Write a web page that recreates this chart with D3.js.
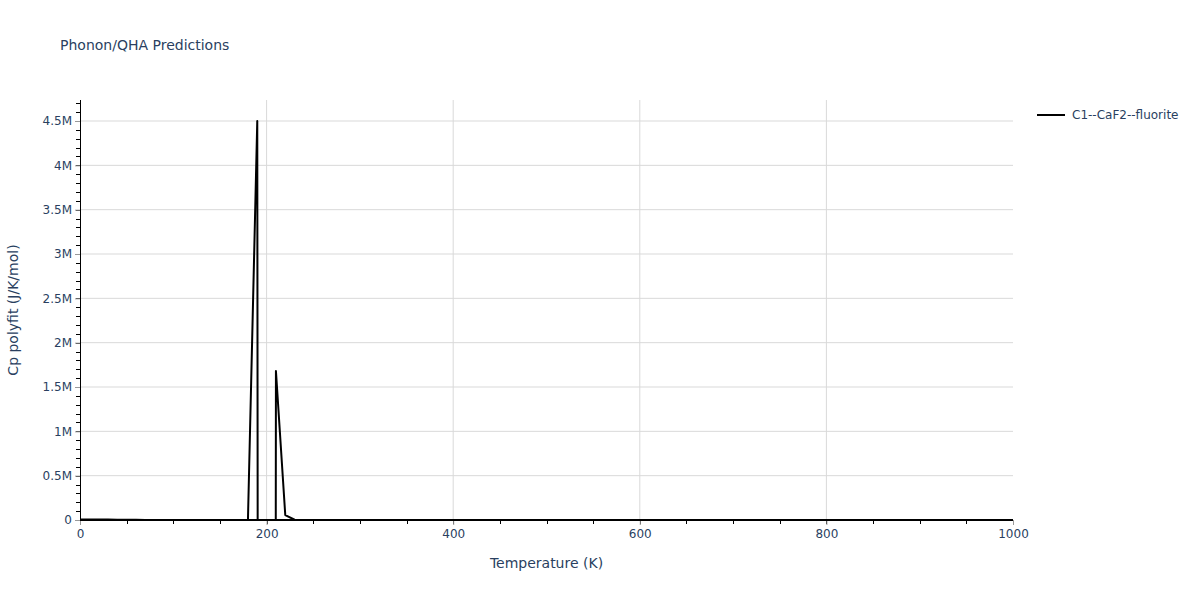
<!DOCTYPE html>
<html>
<head>
<meta charset="utf-8">
<script src="https://cdn.jsdelivr.net/npm/d3@7"></script>
<style>
  body { margin: 0; background: #fff; }
  text { font-family: Verdana, "DejaVu Sans", sans-serif; fill: #2a3f5f; }
</style>
</head>
<body>
<svg id="chart" width="1200" height="600"></svg>
<script>
// temperature grid (K) and Cp polyfit values (J/K/mol)
var temps = d3.range(0, 1000, 10)
var cpSpike = [[180, 0], [190, 4500000], [200, -100000000], [210, 1680000], [220, 56000], [230, 3000]]
var cpLow = [5000, 5000, 5000, 4500, 4000, 3000, 1500, 0]
var seriesName = "C1--CaF2--fluorite"
var yTickVals = [0, 500000, 1000000, 1500000, 2000000, 2500000, 3000000, 3500000, 4000000, 4500000]
var yTickText = ["0", "0.5M", "1M", "1.5M", "2M", "2.5M", "3M", "3.5M", "4M", "4.5M"]
var xTickVals = [0, 200, 400, 600, 800, 1000]

var cpValues = temps.map(function(t, i) {
   if (i < cpLow.length) return cpLow[i]
   var s = cpSpike.find(d => d[0] == t)
   if (s) return s[1]
   return 0
})
var dataset = temps.map((t, i) => ({ T: t, cp: cpValues[i] }))

var fontFamily = 'Verdana, "DejaVu Sans", sans-serif'
var margin = { top: 100, right: 187, bottom: 80, left: 80 }
var width = 1200 - margin.left - margin.right
var height = 600 - margin.top - margin.bottom

var svg = d3.select("#chart")

var xScale = d3.scaleLinear().domain([0, 1000]).range([0, width])
var yScale = d3.scaleLinear().domain([0, 4737000]).range([height, 0])

svg.append("defs").append("clipPath")
   .attr("id", "plot-clip")
   .append("rect")
   .attr("width", width)
   .attr("height", height)

var chart = svg.append("g")
   .attr("transform", "translate(" + margin.left + "," + margin.top + ")")

// grid
chart.append("g")
   .selectAll("line")
   .data(xTickVals.slice(1, -1))
   .join("line")
   .attr("x1", d => xScale(d))
   .attr("x2", d => xScale(d))
   .attr("y1", 0)
   .attr("y2", height)
   .attr("stroke", "#d9d9d9")
   .attr("stroke-width", 1)

chart.append("g")
   .selectAll("line")
   .data(yTickVals.slice(1))
   .join("line")
   .attr("x1", 0)
   .attr("x2", width)
   .attr("y1", d => yScale(d))
   .attr("y2", d => yScale(d))
   .attr("stroke", "#d9d9d9")
   .attr("stroke-width", 1)

// minor ticks
var yMinor = d3.range(0, 4737000, 100000)
chart.append("g")
   .selectAll("line")
   .data(yMinor)
   .join("line")
   .attr("x1", -4)
   .attr("x2", 0)
   .attr("y1", d => Math.round(yScale(d)) + 0.5)
   .attr("y2", d => Math.round(yScale(d)) + 0.5)
   .attr("stroke", "#000")

var xMinor = d3.range(50, 1000, 50)
chart.append("g")
   .selectAll("line")
   .data(xMinor)
   .join("line")
   .attr("x1", d => Math.round(xScale(d)) + 0.5)
   .attr("x2", d => Math.round(xScale(d)) + 0.5)
   .attr("y1", height)
   .attr("y2", height + 4)
   .attr("stroke", "#000")

// axes
var xAxis = d3.axisBottom(xScale).tickValues(xTickVals).tickFormat(d3.format("d"))
   .tickSize(5).tickPadding(4)
var yAxis = d3.axisLeft(yScale).tickValues(yTickVals)
   .tickFormat((d, i) => yTickText[i]).tickSize(5).tickPadding(3)

var gx = chart.append("g")
   .attr("transform", "translate(0," + height + ")")
   .call(xAxis)
gx.select(".domain").remove()
gx.selectAll(".tick line").attr("stroke", "#999")
gx.selectAll(".tick text").attr("font-size", 12).attr("fill", "#2a3f5f")
   .style("font-family", fontFamily)

var gy = chart.append("g").call(yAxis)
gy.select(".domain").remove()
gy.selectAll(".tick line").attr("stroke", "#999")
gy.selectAll(".tick text").attr("font-size", 12).attr("fill", "#2a3f5f")
   .style("font-family", fontFamily)

chart.append("line")
   .attr("x1", 0.5).attr("x2", 0.5)
   .attr("y1", 0).attr("y2", height)
   .attr("stroke", "#000")
chart.append("line")
   .attr("x1", 0).attr("x2", width)
   .attr("y1", height).attr("y2", height)
   .attr("stroke", "#000")
   .attr("stroke-width", 2)

// line
var line = d3.line()
   .x(d => xScale(d.T))
   .y(d => yScale(d.cp))

chart.append("path")
   .datum(dataset)
   .attr("clip-path", "url(#plot-clip)")
   .attr("d", line)
   .attr("fill", "none")
   .attr("stroke", "#000")
   .attr("stroke-width", 2)
   .attr("stroke-linejoin", "round")

// titles
svg.append("text")
   .attr("x", 60)
   .attr("y", 50)
   .attr("font-size", 14)
   .text("Phonon/QHA Predictions")

svg.append("text")
   .attr("x", margin.left + width / 2)
   .attr("y", 568)
   .attr("text-anchor", "middle")
   .attr("font-size", 14)
   .text("Temperature (K)")

svg.append("text")
   .attr("transform", "translate(18," + (margin.top + height / 2) + ") rotate(-90)")
   .attr("text-anchor", "middle")
   .attr("font-size", 14)
   .text("Cp polyfit (J/K/mol)")

// legend
var legend = svg.append("g").attr("transform", "translate(1037,115)")
legend.append("line")
   .attr("x1", 0).attr("x2", 28)
   .attr("stroke", "#000")
   .attr("stroke-width", 2)
legend.append("text")
   .attr("x", 35)
   .attr("y", 4)
   .attr("font-size", 12)
   .text(seriesName)
</script>
</body>
</html>
